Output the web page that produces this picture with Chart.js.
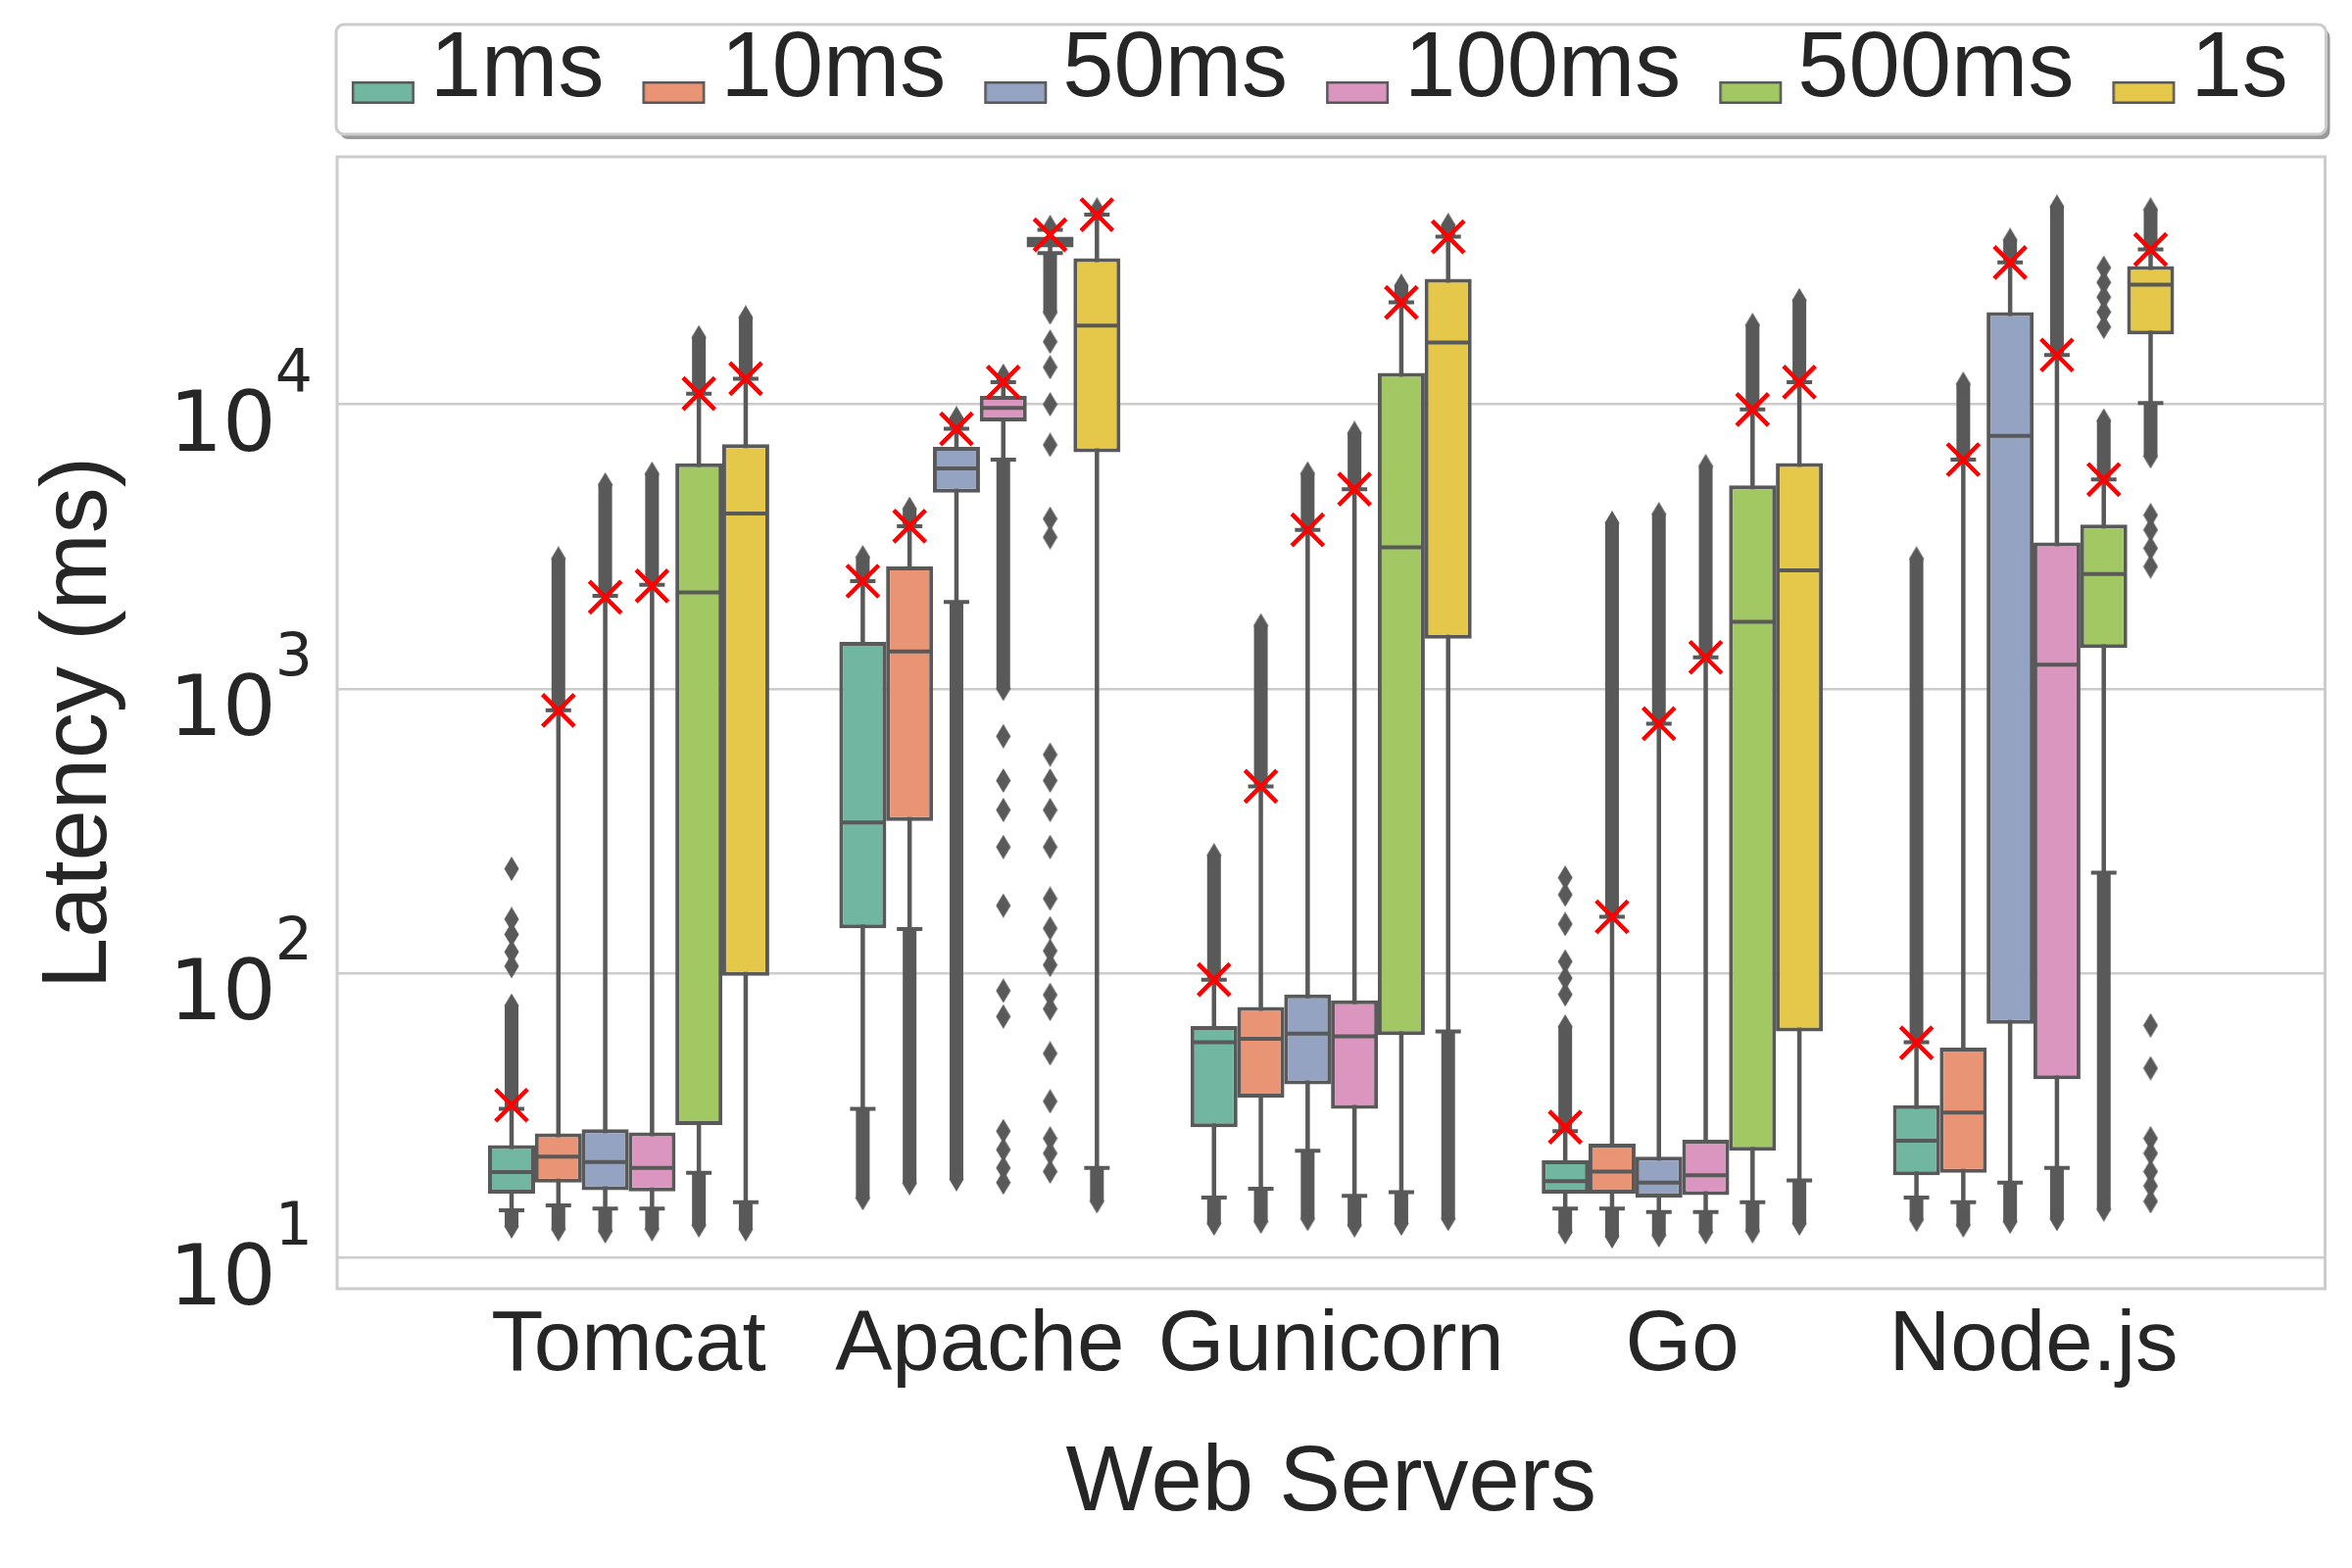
<!DOCTYPE html>
<html>
<head>
<meta charset="utf-8">
<script src="https://cdn.jsdelivr.net/npm/chart.js@4.4.1/dist/chart.umd.min.js"></script>
<style>
  html, body { margin: 0; padding: 0; background: #fff; overflow: hidden; }
  #wrap { width: 2400px; height: 1600px; }
</style>
</head>
<body>
<div id="wrap"><canvas id="latencyChart" width="2400" height="1600"></canvas></div>
<script>
// categories and hue levels
const servers = ['Tomcat', 'Apache', 'Gunicorn', 'Go', 'Node.js'];
const delays = ['1ms', '10ms', '50ms', '100ms', '500ms', '1s'];
const yTicks = [10, 100, 1000, 10000];

// box statistics in ms, one row per delay, columns follow `servers`
const q1 = [
  [16.8, 144, 28.8, 16.8, 19.5],
  [18.4, 343, 36.6, 16.8, 19.9],
  [17.3, 4890, 40.7, 16.3, 66.4],
  [17.1, 8710, 33.4, 16.6, 42.4],
  [29.3, 35600, 60.7, 23.8, 1390],
  [97.9, 6780, 1500, 62.5, 17600]
];
const median = [
  [20.0, 339, 57.2, 18.6, 25.8],
  [22.7, 1353, 58.9, 20.1, 32.4],
  [21.7, 5950, 61.4, 18.4, 7740],
  [20.7, 9700, 60.0, 19.5, 1215],
  [2180, 37200, 3140, 1720, 2530],
  [4130, 18900, 16500, 2610, 26300]
];
const q3 = [
  [24.9, 1462, 65.2, 22.0, 34.4],
  [27.4, 2690, 76.2, 25.2, 54.8],
  [28.3, 7080, 84.3, 22.7, 21100],
  [27.6, 10700, 80.4, 26.0, 3270],
  [6200, 38800, 12900, 5190, 3780],
  [7240, 32600, 27600, 6210, 30600]
];
const whiskerLow = [
  [14.7, 33.4, 16.3, 14.9, 16.3],
  [15.3, 143, 17.5, 14.9, 15.7],
  [14.9, 2020, 23.8, 14.5, 18.4],
  [14.9, 6390, 16.5, 14.5, 20.7],
  [19.9, 34000, 17.0, 15.7, 226],
  [15.7, 20.7, 62.5, 18.7, 10100]
];
const whiskerHigh = [
  [33.4, 2390, 95, 27.9, 57.2],
  [840, 3730, 454, 158, 6390],
  [2120, 8210, 3620, 754, 31500],
  [2320, 11960, 5030, 1290, 14900],
  [10900, 41000, 22800, 9590, 5440],
  [12300, 46400, 38800, 11960, 35000]
];
const mean = [
  [34.4, 2390, 95, 28.8, 57],
  [840, 3730, 454, 158, 6390],
  [2100, 8200, 3620, 754, 31500],
  [2300, 11960, 5030, 1290, 14900],
  [10900, 39400, 22800, 9590, 5440],
  [12300, 46400, 38800, 11960, 35000]
];
// dense runs of outliers: outermost value above / below the whiskers
const outlierTop = [
  [77, 2900, 260, 65, 2870],
  [2870, 4290, 1670, 3830, 11800],
  [5220, 8930, 5710, 4110, 37800],
  [5700, 12600, 7920, 6060, 49500],
  [17200, 42000, 26100, 19000, 8770],
  [20200, 48400, 42700, 23200, 48400]
];
const outlierBottom = [
  [12.9, 16.2, 13.2, 12.3, 13.6],
  [12.6, 18.3, 13.4, 11.9, 13.0],
  [12.4, 18.9, 13.7, 12.0, 13.4],
  [12.6, 1000, 13.0, 12.3, 13.7],
  [13.0, 21000, 13.2, 12.4, 14.8],
  [12.6, 15.8, 13.7, 13.2, 6560]
];
// isolated outliers: [server, delay, values]
const looseOutliers = [
  [0, 0, [106, 119, 137, 155, 233]],
  [1, 3, [681, 476, 375, 278, 173, 86.9, 70.5, 27.9, 24.0, 20.7, 18.4]],
  [1, 4, [16600, 13500, 10000, 7200, 3960, 3410, 587, 476, 375, 278, 183, 144, 120, 107, 84, 75, 52.3, 35.5, 26.3, 23.3, 20.1]],
  [3, 0, [84.3, 96.2, 110, 149, 189, 217]],
  [4, 4, [30200, 26800, 23800, 21100, 18700]],
  [4, 5, [4080, 3620, 3120, 2690, 65.6, 46.4, 26.3, 23.3, 20.1, 17.9, 15.8]]
];

const palette = ['#71b6a0', '#e99575', '#95a3c3', '#db96c0', '#a2c864', '#e5c849'];
const edge = '#595959';
const ink = '#262626';
const sans = '"Liberation Sans", Arial, sans-serif';

// seaborn dodges the hue levels inside a 0.8 wide slot
const slot = 0.8 / delays.length;
const xOf = (s, d) => s + (d - (delays.length - 1) / 2) * slot;

function perBox(fn) {
  const out = [];
  delays.forEach((_, d) => servers.forEach((_, s) => out.push(fn(s, d))));
  return out;
}

// thin diamond used by matplotlib for fliers
const flier = document.createElement('canvas');
flier.width = 16; flier.height = 25;
(function () {
  const g = flier.getContext('2d');
  g.fillStyle = edge;
  g.beginPath();
  g.moveTo(8, 0); g.lineTo(15.5, 12.5); g.lineTo(8, 25); g.lineTo(0.5, 12.5);
  g.closePath(); g.fill();
})();

// legend swatch sits low, next to the baseline, like the reference
function swatch(color) {
  const c = document.createElement('canvas');
  c.width = 140; c.height = 94;
  const g = c.getContext('2d');
  g.fillStyle = color;
  g.fillRect(72, 58, 64, 23);
  g.strokeStyle = edge; g.lineWidth = 2.5;
  g.strokeRect(73.25, 59.25, 61.5, 20.5);
  return c;
}
const swatches = palette.map(swatch);

const datasets = [];
delays.forEach((name, d) => {
  datasets.push({
    type: 'bar',
    label: name,
    data: servers.map((_, s) => ({ x: xOf(s, d), y: [q1[d][s], q3[d][s]] })),
    backgroundColor: palette[d],
    borderColor: edge,
    borderWidth: 4,
    borderSkipped: false,
    inflateAmount: 0,
    barThickness: 48,
    grouped: false,
    order: 2
  });
});

datasets.push({
  type: 'bar',
  label: 'whiskers',
  data: perBox((s, d) => ({ x: xOf(s, d), y: [whiskerLow[d][s], whiskerHigh[d][s]] })),
  backgroundColor: edge,
  borderWidth: 0,
  inflateAmount: 0,
  barThickness: 4.5,
  grouped: false,
  order: 5
});

datasets.push({
  type: 'bar',
  label: 'outlier runs',
  data: perBox((s, d) => ({ x: xOf(s, d), y: [whiskerHigh[d][s], outlierTop[d][s]] }))
    .concat(perBox((s, d) => ({ x: xOf(s, d), y: [outlierBottom[d][s], whiskerLow[d][s]] }))),
  backgroundColor: edge,
  borderWidth: 0,
  inflateAmount: 0,
  barThickness: 14,
  grouped: false,
  order: 4
});

const flierPoints = perBox((s, d) => ({ x: xOf(s, d), y: outlierTop[d][s] }))
  .concat(perBox((s, d) => ({ x: xOf(s, d), y: outlierBottom[d][s] })));
looseOutliers.forEach(([s, d, vals]) => vals.forEach(v => flierPoints.push({ x: xOf(s, d), y: v })));

datasets.push({
  type: 'scatter',
  label: 'fliers',
  data: flierPoints,
  pointStyle: flier,
  pointRadius: 8,
  order: 3
});

datasets.push({
  type: 'scatter',
  label: 'caps',
  data: perBox((s, d) => ({ x: xOf(s, d), y: whiskerLow[d][s] }))
    .concat(perBox((s, d) => ({ x: xOf(s, d), y: whiskerHigh[d][s] }))),
  pointStyle: 'line',
  pointRadius: 13,
  pointBorderWidth: 4,
  pointBorderColor: edge,
  borderColor: edge,
  order: 3
});

datasets.push({
  type: 'scatter',
  label: 'medians',
  data: perBox((s, d) => ({ x: xOf(s, d), y: median[d][s] })),
  pointStyle: 'line',
  pointRadius: 21,
  pointBorderWidth: 4,
  pointBorderColor: edge,
  borderColor: edge,
  order: 1
});

datasets.push({
  type: 'scatter',
  label: 'means',
  data: perBox((s, d) => ({ x: xOf(s, d), y: mean[d][s] })),
  pointStyle: 'crossRot',
  pointRadius: 23,
  pointBorderWidth: 4.5,
  pointBorderColor: '#ff0000',
  borderColor: '#ff0000',
  order: 0
});

const decorations = {
  id: 'decorations',
  afterInit(chart) {
    // keep the six entries on one row and give the legend a fixed height
    const lg = chart.legend;
    const fit = lg.fit;
    lg.fit = function () {
      fit.call(this);
      this.height = 137;
    };
  },
  afterLayout(chart) {
    chart.legend.left -= 30;
    chart.legend.right -= 30;
  },
  beforeDraw(chart) {
    const { ctx, chartArea: a } = chart;
    const top = chart.legend.top + 2, h = 112;
    const left = a.left - 1, w = a.right - a.left + 2;
    ctx.save();
    ctx.fillStyle = '#9a9a9a';
    ctx.beginPath(); ctx.roundRect(left + 4, top + 5, w, h, 8); ctx.fill();
    ctx.fillStyle = '#ffffff';
    ctx.strokeStyle = '#cccccc';
    ctx.lineWidth = 3;
    ctx.beginPath(); ctx.roundRect(left, top, w, h, 8); ctx.fill(); ctx.stroke();
    ctx.restore();
  },
  beforeDatasetsDraw(chart) {
    const { ctx, chartArea: a } = chart;
    ctx.save();
    ctx.strokeStyle = '#cccccc';
    ctx.lineWidth = 3;
    ctx.strokeRect(a.left, a.top, a.right - a.left, a.bottom - a.top);
    ctx.restore();
  },
  afterDraw(chart) {
    // mathtext style 10^n tick labels
    const { ctx, chartArea: a } = chart;
    const ys = chart.scales.y;
    const right = a.left - 25;
    ctx.save();
    ctx.fillStyle = ink;
    ctx.textAlign = 'right';
    ctx.textBaseline = 'alphabetic';
    yTicks.forEach(v => {
      const py = ys.getPixelForValue(v);
      const e = String(Math.round(Math.log10(v)));
      ctx.font = '60px "DejaVu Sans"';
      const ew = ctx.measureText(e).width;
      ctx.fillText(e, right, py - 14);
      ctx.font = '86px "DejaVu Sans"';
      ctx.fillText('10', right - ew + 1, py + 47);
    });
    ctx.restore();
  }
};

new Chart(document.getElementById('latencyChart').getContext('2d'), {
  type: 'bar',
  data: { datasets: datasets },
  options: {
    responsive: false,
    devicePixelRatio: 1,
    animation: false,
    events: [],
    layout: { padding: { top: 23, right: 23, bottom: 0, left: 0 } },
    plugins: {
      tooltip: { enabled: false },
      legend: {
        position: 'top',
        fullSize: false,
        align: 'center',
        labels: {
          usePointStyle: true,
          pointStyleWidth: 70,
          padding: 2,
          color: ink,
          font: { family: sans, size: 94 },
          generateLabels: () => delays.map((name, d) => ({
            text: name,
            pointStyle: swatches[d],
            fillStyle: palette[d],
            strokeStyle: edge,
            lineWidth: 0,
            fontColor: ink,
            datasetIndex: d,
            hidden: false
          }))
        }
      }
    },
    scales: {
      x: {
        type: 'linear',
        min: -0.83,
        max: 4.83,
        offset: false,
        grid: { display: false, drawTicks: false, offset: false },
        border: { display: false },
        afterBuildTicks: s => { s.ticks = servers.map((_, i) => ({ value: i })); },
        afterFit: s => { s.height = 285; },
        ticks: {
          callback: v => servers[v],
          padding: 7,
          maxRotation: 0,
          autoSkip: false,
          color: ink,
          font: { family: sans, size: 87 }
        },
        title: {
          display: true,
          text: 'Web Servers',
          color: ink,
          font: { family: sans, size: 94 },
          padding: { top: 0, bottom: 29 }
        }
      },
      y: {
        type: 'logarithmic',
        min: 7.79,
        max: 74100,
        grid: { color: '#cccccc', lineWidth: 2.5, drawTicks: false },
        border: { display: false },
        afterBuildTicks: s => { s.ticks = yTicks.map(v => ({ value: v })); },
        afterFit: s => { s.width = 344; },
        ticks: { display: false },
        title: {
          display: true,
          text: 'Latency (ms)',
          color: ink,
          font: { family: sans, size: 94 },
          padding: { top: 26, bottom: 0 }
        }
      }
    }
  },
  plugins: [decorations]
});
</script>
</body>
</html>
